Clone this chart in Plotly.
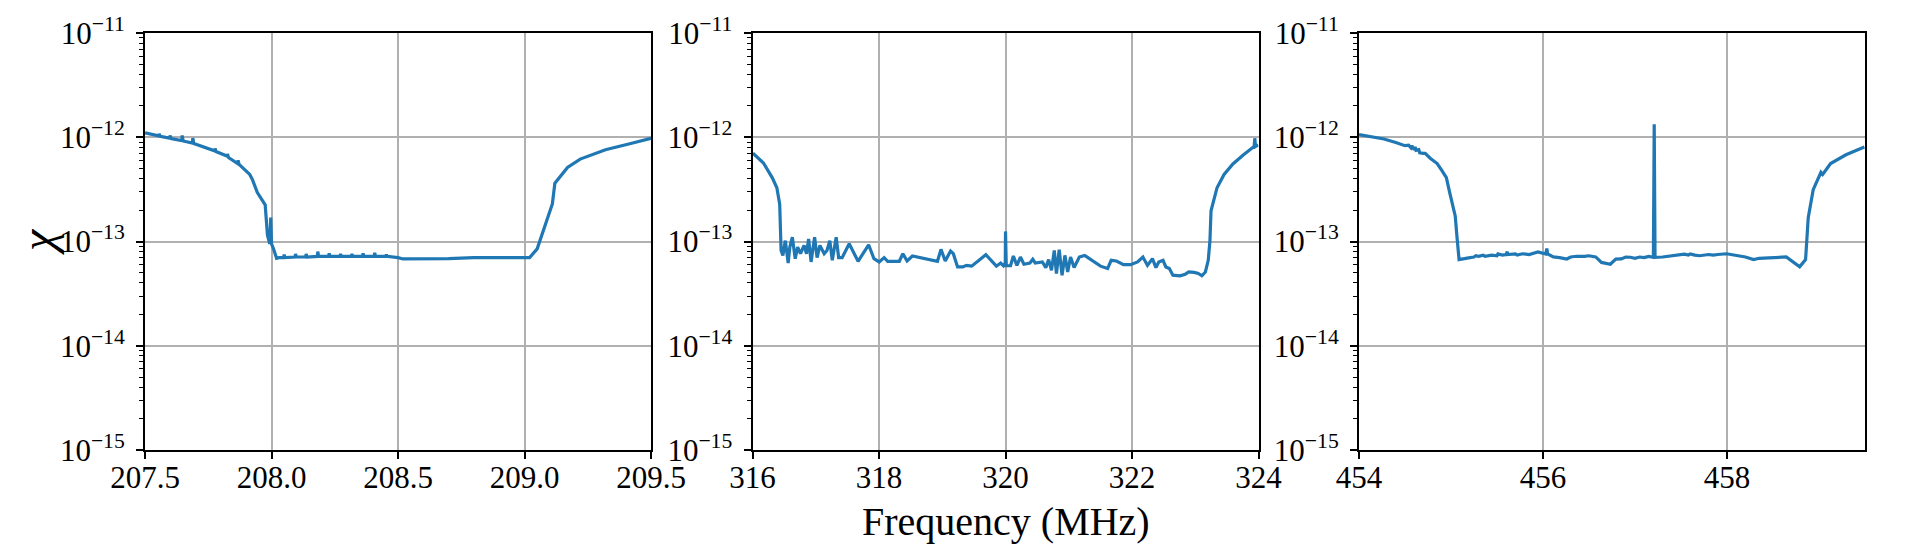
import plotly.graph_objects as go

# values of chi are given in units of 1e-13
CHI_UNIT = 1e-13

# ---- panel 1 : 207.5 - 209.5 MHz ----
freq1 = [207.500, 207.530, 207.554, 207.556, 207.560, 207.597, 207.599, 207.603,
         207.645, 207.647, 207.651, 207.687, 207.689, 207.693, 207.740, 207.775,
         207.777, 207.780, 207.824, 207.826, 207.830, 207.866, 207.868, 207.872,
         207.914, 207.925, 207.944, 207.962, 207.975, 207.984, 207.993, 207.997,
         208.000, 208.008, 208.020, 208.030, 208.048, 208.050, 208.053, 208.093,
         208.095, 208.098, 208.135, 208.137, 208.140, 208.181, 208.183, 208.186,
         208.226, 208.228, 208.231, 208.271, 208.273, 208.276, 208.316, 208.318,
         208.321, 208.360, 208.362, 208.365, 208.406, 208.408, 208.411, 208.452,
         208.454, 208.457, 208.480, 208.500, 208.520, 208.600, 208.700, 208.800,
         208.900, 209.020, 209.050, 209.080, 209.110, 209.120, 209.170, 209.220,
         209.320, 209.420, 209.500]
chi1 = [11.0, 10.6, 10.3, 10.8, 10.2, 9.8, 10.4, 9.7,
        9.3, 10.4, 9.2, 8.8, 9.8, 8.7, 8.0, 7.4,
        7.8, 7.3, 6.6, 6.9, 6.4, 5.6, 6.0, 5.5,
        4.4, 3.9, 2.95, 2.5, 2.25, 1.15, 0.95, 1.70,
        0.95, 0.85, 0.69, 0.70, 0.70, 0.75, 0.70, 0.71,
        0.76, 0.71, 0.71, 0.76, 0.71, 0.72, 0.80, 0.72,
        0.72, 0.77, 0.72, 0.72, 0.76, 0.72, 0.72, 0.76,
        0.72, 0.72, 0.77, 0.72, 0.72, 0.78, 0.72, 0.72,
        0.75, 0.72, 0.71, 0.70, 0.68, 0.68, 0.685, 0.70,
        0.695, 0.70, 0.85, 1.41, 2.29, 3.63, 5.13, 6.17,
        7.59, 8.71, 9.77]

# ---- panel 2 : 316 - 324 MHz ----
freq2 = [316.006, 316.173, 316.313, 316.385, 316.430, 316.452, 316.480, 316.519,
         316.564, 316.590, 316.630, 316.675, 316.714, 316.759, 316.815, 316.854,
         316.887, 316.926, 316.982, 317.021, 317.066, 317.133, 317.177, 317.222,
         317.261, 317.323, 317.362, 317.417, 317.529, 317.669, 317.836, 317.920,
         318.003, 318.081, 318.137, 318.321, 318.377, 318.444, 318.528, 318.924,
         318.980, 319.047, 319.131, 319.175, 319.242, 319.326, 319.382, 319.465,
         319.689, 319.856, 319.923, 319.968, 319.996, 320.000, 320.012, 320.079,
         320.124, 320.180, 320.236, 320.291, 320.386, 320.431, 320.470, 320.582,
         320.637, 320.682, 320.727, 320.771, 320.805, 320.849, 320.894, 320.939,
         320.983, 321.028, 321.084, 321.167, 321.251, 321.363, 321.502, 321.614,
         321.670, 321.753, 321.865, 321.977, 322.088, 322.172, 322.244, 322.323,
         322.378, 322.423, 322.490, 322.535, 322.590, 322.646, 322.758, 322.842,
         322.897, 322.981, 323.048, 323.104, 323.160, 323.205, 323.232, 323.249,
         323.344, 323.455, 323.595, 323.763, 323.902, 323.930, 323.941, 323.952,
         323.996]
chi2 = [7.05, 5.66, 4.08, 3.28, 2.28, 0.82, 0.736, 1.02,
        0.622, 0.883, 1.10, 0.684, 0.883, 0.764, 0.916, 0.764,
        1.06, 0.637, 1.10, 0.70, 0.916, 0.764, 0.82, 1.02,
        0.66, 1.10, 0.70, 0.70, 0.95, 0.646, 0.93, 0.684,
        0.637, 0.70, 0.646, 0.646, 0.764, 0.65, 0.726, 0.646,
        0.84, 0.65, 0.81, 0.764, 0.57, 0.57, 0.59, 0.58,
        0.747, 0.58, 0.622, 0.585, 0.62, 1.25, 0.585, 0.585,
        0.726, 0.59, 0.71, 0.605, 0.622, 0.675, 0.622, 0.637,
        0.562, 0.67, 0.53, 0.82, 0.493, 0.834, 0.475, 0.736,
        0.51, 0.71, 0.562, 0.71, 0.736, 0.66, 0.58, 0.55,
        0.66, 0.65, 0.60, 0.60, 0.637, 0.71, 0.59, 0.684,
        0.562, 0.637, 0.66, 0.57, 0.55, 0.475, 0.469, 0.486,
        0.51, 0.505, 0.493, 0.469, 0.51, 0.66, 1.02, 1.97,
        3.28, 4.39, 5.54, 6.79, 7.87, 8.15, 9.78, 8.15,
        8.46]

# ---- panel 3 : 454 - 459.5 MHz ----
freq3 = [454.000, 454.150, 454.272, 454.400, 454.500, 454.540, 454.565, 454.575,
         454.600, 454.610, 454.620, 454.650, 454.660, 454.700, 454.720, 454.774,
         454.850, 454.900, 454.950, 454.983, 455.030, 455.046, 455.067, 455.088,
         455.192, 455.250, 455.270, 455.300, 455.350, 455.370, 455.443, 455.500,
         455.510, 455.560, 455.600, 455.611, 455.615, 455.700, 455.720, 455.778,
         455.850, 455.946, 456.030, 456.042, 456.050, 456.113, 456.180, 456.259,
         456.300, 456.364, 456.450, 456.500, 456.573, 456.636, 456.732, 456.791,
         456.850, 456.900, 456.950, 457.000, 457.050, 457.100, 457.150, 457.200,
         457.209, 457.218, 457.300, 457.368, 457.450, 457.536, 457.580, 457.600,
         457.650, 457.703, 457.800, 457.850, 457.900, 457.996, 458.121, 458.200,
         458.289, 458.350, 458.456, 458.550, 458.644, 458.790, 458.854, 458.883,
         458.937, 459.021, 459.040, 459.126, 459.293, 459.494]
chi3 = [10.6, 10.1, 9.62, 8.9, 8.3, 8.4, 7.93, 8.3,
        7.6, 8.1, 7.5, 7.6, 7.1, 7.0, 7.0, 6.29,
        5.6, 4.80, 4.1, 3.02, 2.1, 1.76, 1.06, 0.67,
        0.696, 0.71, 0.73, 0.72, 0.74, 0.72, 0.74, 0.73,
        0.76, 0.74, 0.75, 0.80, 0.75, 0.76, 0.74, 0.763,
        0.75, 0.794, 0.76, 0.857, 0.76, 0.711, 0.70, 0.679,
        0.71, 0.722, 0.72, 0.73, 0.711, 0.63, 0.605, 0.679,
        0.68, 0.71, 0.706, 0.69, 0.71, 0.70, 0.72, 0.706,
        13.3, 0.706, 0.71, 0.722, 0.74, 0.757, 0.74, 0.76,
        0.74, 0.73, 0.75, 0.74, 0.75, 0.763, 0.73, 0.71,
        0.67, 0.69, 0.696, 0.70, 0.711, 0.573, 0.67, 1.69,
        3.14, 4.61, 4.4, 5.60, 6.79, 8.05]

x_ranges = [[207.5, 209.5], [316, 324], [454, 459.5]]
x_dticks = [0.5, 2, 2]
x_formats = [".1f", "d", "d"]

y_tickvals = [1e-15, 1e-14, 1e-13, 1e-12, 1e-11]
y_ticktext = ["10<sup>\u221215</sup>", "10<sup>\u221214</sup>", "10<sup>\u221213</sup>",
              "10<sup>\u221212</sup>", "10<sup>\u221211</sup>"]
y_minor = [m * 10.0 ** e for e in range(-15, -11) for m in range(2, 10)]

FONT = "Liberation Serif"
LINE_COLOR = "#1f77b4"

fig = go.Figure()
series = [(freq1, chi1), (freq2, chi2), (freq3, chi3)]
for i, (f, c) in enumerate(series):
    suffix = "" if i == 0 else str(i + 1)
    fig.add_trace(go.Scatter(
        x=f, y=[v * CHI_UNIT for v in c], mode="lines",
        line=dict(color=LINE_COLOR, width=3.2),
        xaxis="x" + suffix, yaxis="y" + suffix, showlegend=False,
    ))

domains = [[0.0, 0.2942], [0.3532, 0.6474], [0.7058, 1.0]]
layout = dict(
    width=1912, height=559,
    margin=dict(l=145, r=23, t=26, b=109),
    paper_bgcolor="white", plot_bgcolor="white",
    showlegend=False,
)
for i in range(3):
    suffix = "" if i == 0 else str(i + 1)
    layout["xaxis" + suffix] = dict(
        domain=domains[i], range=x_ranges[i], anchor="y" + suffix,
        tick0=x_ranges[i][0], dtick=x_dticks[i], tickformat=x_formats[i],
        ticks="outside", ticklen=7, tickwidth=1.5, tickcolor="black",
        ticklabelstandoff=-8,
        showline=True, linecolor="black", linewidth=2, mirror=True,
        showgrid=True, gridcolor="#b0b0b0", gridwidth=1.5, zeroline=False,
        tickfont=dict(family=FONT, size=31, color="black"),
    )
    layout["yaxis" + suffix] = dict(
        type="log", range=[-15, -11], anchor="x" + suffix, domain=[0, 1],
        tickvals=y_tickvals, ticktext=y_ticktext,
        ticks="outside", ticklen=7, tickwidth=1.5, tickcolor="black",
        ticklabelstandoff=5,
        showline=True, linecolor="black", linewidth=2, mirror=True,
        showgrid=True, gridcolor="#b0b0b0", gridwidth=1.5, zeroline=False,
        tickfont=dict(family=FONT, size=31, color="black"),
        minor=dict(tickvals=y_minor, ticks="outside", ticklen=4, tickwidth=1,
                   tickcolor="black", showgrid=False),
    )
fig.update_layout(**layout)

fig.add_annotation(text="<i>\u03c7</i>", xref="paper", yref="paper", x=-0.0625, y=0.5,
                   xanchor="center", yanchor="middle", textangle=-90, showarrow=False,
                   font=dict(family=FONT, size=48, color="black"))
fig.add_annotation(text="Frequency (MHz)", xref="paper", yref="paper", x=0.5003, y=-0.172,
                   xanchor="center", yanchor="middle", showarrow=False,
                   font=dict(family=FONT, size=40, color="black"))

fig.write_html("out.html")
